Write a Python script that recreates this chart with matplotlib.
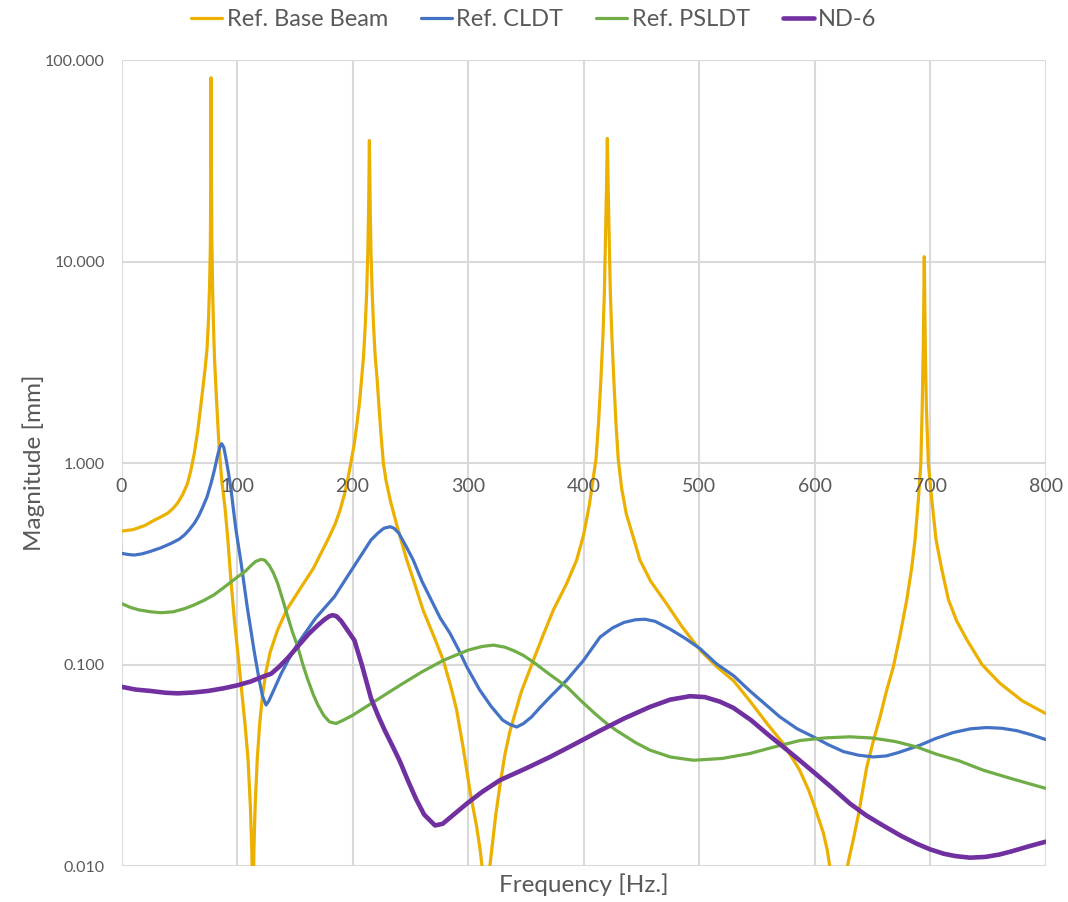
import matplotlib
matplotlib.use("Agg")
import matplotlib.pyplot as plt
from matplotlib.ticker import FixedLocator, FixedFormatter, NullLocator

plt.rcParams["font.family"] = ["Lato", "DejaVu Sans"]

# ---- series: frequency [Hz] and response magnitude [mm] ----
base_f = [0, 10, 20, 28, 35, 40, 45, 48.6, 53, 57, 60, 63, 66, 68.5, 70.5, 72.5, 74, 75.2,
          76.2, 76.9, 77.3, 77.5, 77.8, 78.2, 78.8, 79.6, 80.5, 82, 83.8, 85.5, 87, 89.6,
          92, 95, 98, 101, 104, 107, 109.5, 111.5, 112.8, 113.7, 114.6, 115.7, 117.5,
          119.5, 122, 125, 128.6, 135, 143, 155, 166, 178.5, 185, 189.2, 193, 196, 198.5,
          201.5, 204, 206, 207.8, 209.5, 211, 212.2, 213.2, 213.9, 214.6, 215.3, 216, 217,
          218.2, 219.6, 221.3, 223.2, 224.8, 226.7, 229, 232.5, 238, 247, 254, 261, 270,
          278.6, 285, 290, 296, 302, 307.5, 310.5, 313, 315.5, 318, 320.5, 324, 328, 332,
          336.4, 346, 356.5, 365, 373.9, 385, 394, 400, 405, 408.5, 410.8, 413, 415, 416.8,
          418, 419, 419.8, 420.6, 421.4, 422.2, 423.2, 424.5, 426.2, 428, 430, 433, 437,
          443, 448.9, 458, 472, 485, 500.9, 515, 530, 544, 560, 573, 587, 595, 601, 607.6,
          611, 615, 620, 626, 630, 633.5, 638, 645.2, 651, 656.7, 662, 668.2, 674, 679.8,
          684, 687, 689.8, 692, 693.2, 694.2, 695, 695.8, 696.8, 698.5, 701, 705.2, 710,
          715.9, 723, 731.8, 745, 760.6, 780, 800]
base_v = [0.46, 0.468, 0.49, 0.52, 0.545, 0.565, 0.60, 0.635, 0.70, 0.79, 0.92, 1.12, 1.45,
          1.9, 2.4, 3.0, 3.7, 5.0, 7.5, 12, 30, 82, 30, 13, 7.5, 4.8, 3.3, 2.2, 1.4, 1.0,
          0.8, 0.6, 0.42, 0.25, 0.16, 0.11, 0.074, 0.05, 0.034, 0.02, 0.012, 0.005, 0.012,
          0.02, 0.034, 0.05, 0.07, 0.092, 0.115, 0.148, 0.187, 0.24, 0.30, 0.416, 0.50,
          0.586, 0.70, 0.84, 1.0, 1.25, 1.6, 2.0, 2.6, 3.4, 4.8, 7.0, 11, 18, 40, 18, 11,
          7.0, 4.8, 3.4, 2.6, 1.8, 1.35, 1.0, 0.82, 0.66, 0.50, 0.33, 0.25, 0.187, 0.14,
          0.105, 0.078, 0.06, 0.038, 0.023, 0.0156, 0.012, 0.009, 0.005, 0.009, 0.012,
          0.018, 0.026, 0.036, 0.047, 0.073, 0.105, 0.14, 0.187, 0.25, 0.33, 0.44, 0.62,
          0.85, 1.05, 1.6, 2.6, 4.3, 7, 13, 22, 41, 22, 13, 7, 4.3, 2.6, 1.6, 1.05, 0.75,
          0.56, 0.43, 0.33, 0.26, 0.20, 0.155, 0.118, 0.098, 0.083, 0.066, 0.05, 0.0405,
          0.030, 0.0237, 0.019, 0.0146, 0.012, 0.0085, 0.005, 0.0085, 0.011, 0.0135, 0.018,
          0.031, 0.042, 0.055, 0.073, 0.0975, 0.14, 0.209, 0.30, 0.416, 0.65, 1.0, 1.9, 4.0,
          10.6, 4.0, 1.9, 1.0, 0.7, 0.416, 0.30, 0.21, 0.165, 0.133, 0.10, 0.0807, 0.066,
          0.0572]

cldt_f = [0, 6, 11, 18, 25, 34, 42.9, 50, 54.4, 59, 63, 67, 70, 74, 77.5, 80.5, 83, 85,
          86.7, 88.5, 90.5, 92.5, 94.8, 97, 99, 103.5, 109, 115, 119, 122, 125.1, 127.5,
          131, 138.1, 145, 152.5, 168, 184.2, 200, 216, 222, 227, 232.5, 236, 240, 246,
          252.6, 260, 268, 276, 284.4, 292, 298.9, 310, 320, 330, 336, 342.2, 348, 355,
          362, 372, 385.5, 400, 414.3, 425, 435, 445, 453.2, 462, 475, 488, 500.9, 515,
          530, 544, 570, 585, 599, 612, 625, 638, 651, 662, 672, 691.3, 705, 720, 735, 749,
          762, 775, 788, 800]
cldt_v = [0.357, 0.352, 0.35, 0.355, 0.365, 0.38, 0.40, 0.42, 0.44, 0.47, 0.503, 0.55, 0.60,
          0.68, 0.795, 0.93, 1.08, 1.2, 1.25, 1.2, 1.05, 0.9, 0.74, 0.58, 0.47, 0.32, 0.19,
          0.115, 0.085, 0.07, 0.063, 0.066, 0.073, 0.09, 0.107, 0.127, 0.17, 0.217, 0.30,
          0.416, 0.45, 0.475, 0.484, 0.475, 0.45, 0.39, 0.33, 0.26, 0.21, 0.17, 0.143,
          0.118, 0.0975, 0.075, 0.062, 0.053, 0.0505, 0.049, 0.051, 0.055, 0.061, 0.07,
          0.0838, 0.105, 0.137, 0.152, 0.162, 0.167, 0.168, 0.164, 0.15, 0.135, 0.12, 0.101,
          0.088, 0.074, 0.055, 0.048, 0.0438, 0.04, 0.037, 0.0355, 0.0348, 0.0352, 0.0365,
          0.0398, 0.043, 0.046, 0.048, 0.0487, 0.0483, 0.047, 0.0448, 0.0425]

psldt_f = [0, 8, 15, 25, 34.2, 45, 55, 63, 71.7, 80, 88, 95, 100.6, 107, 112, 116, 120.8,
           124, 128, 131.5, 135.2, 139, 143, 148, 152.5, 157, 161, 166, 170, 175, 180,
           185.7, 192, 200, 216, 230, 241.1, 260, 278.6, 300, 312, 321.9, 332, 340, 348,
           356.5, 370, 385.5, 398, 410, 420, 428.7, 445, 457.6, 475, 495, 520, 544, 565,
           587.4, 610, 630.7, 650, 670, 688.5, 705, 725, 746.1, 770, 800]
psldt_v = [0.201, 0.192, 0.187, 0.183, 0.181, 0.183, 0.19, 0.198, 0.209, 0.222, 0.24, 0.258,
           0.273, 0.29, 0.31, 0.325, 0.333, 0.33, 0.31, 0.285, 0.253, 0.215, 0.18, 0.145,
           0.123, 0.10, 0.085, 0.071, 0.063, 0.056, 0.052, 0.051, 0.053, 0.056, 0.064, 0.072,
           0.079, 0.092, 0.105, 0.118, 0.123, 0.125, 0.122, 0.117, 0.111, 0.103, 0.09,
           0.0776, 0.066, 0.057, 0.051, 0.047, 0.041, 0.0376, 0.0348, 0.0335, 0.0342,
           0.0362, 0.039, 0.042, 0.0433, 0.0438, 0.0432, 0.0415, 0.039, 0.036, 0.0333,
           0.0299, 0.0272, 0.0243]

nd6_f = [0, 12, 25, 38, 48.6, 62, 75, 88, 100.6, 112, 122, 129.4, 136, 144, 152.5, 162, 170,
         176, 180, 182.8, 186, 190, 195, 201.6, 208, 216, 222, 228, 235, 241.1, 248, 255,
         262, 271.4, 278, 285, 298.9, 312, 327.7, 350, 371, 392, 414.3, 435, 457.6, 475,
         492.2, 505, 518, 529.7, 545, 558.6, 573, 587, 600, 615, 630.7, 645, 660, 675,
         688.5, 700, 712, 722, 734.6, 748, 760, 770, 785, 800]
nd6_v = [0.0776, 0.0752, 0.074, 0.0725, 0.072, 0.0727, 0.074, 0.0762, 0.079, 0.0825, 0.087,
         0.09, 0.097, 0.108, 0.123, 0.142, 0.157, 0.168, 0.174, 0.176, 0.174, 0.165, 0.15,
         0.132, 0.10, 0.068, 0.056, 0.047, 0.039, 0.033, 0.0265, 0.0215, 0.018, 0.0159,
         0.0162, 0.0175, 0.0204, 0.0233, 0.0267, 0.0305, 0.0348, 0.0402, 0.047, 0.054,
         0.0617, 0.067, 0.0697, 0.069, 0.0655, 0.061, 0.053, 0.0455, 0.039, 0.0335, 0.029,
         0.0245, 0.0204, 0.0178, 0.0158, 0.0141, 0.0129, 0.0121, 0.0115, 0.0112, 0.011,
         0.0111, 0.0114, 0.0118, 0.0125, 0.0132]

series_names = ["Ref. Base Beam", "Ref. CLDT", "Ref. PSLDT", "ND-6"]
series_colors = ["#EBB000", "#4472C4", "#70AD47", "#7030A0"]

y_ticks = [0.01, 0.1, 1, 10, 100]
y_tick_labels = ["0.010", "0.100", "1.000", "10.000", "100.000"]
x_ticks = [0, 100, 200, 300, 400, 500, 600, 700, 800]

fig = plt.figure(figsize=(10.68, 9.02), dpi=100)
ax = fig.add_axes([0.1138, 0.0399, 0.8652, 0.8931])

data = [(base_f, base_v), (cldt_f, cldt_v), (psldt_f, psldt_v), (nd6_f, nd6_v)]
widths = [2.3, 2.3, 2.3, 3.3]
for (f, v), name, col, lw in zip(data, series_names, series_colors, widths):
    ax.plot(f, v, color=col, lw=lw, label=name, solid_joinstyle="round",
            solid_capstyle="round", zorder=3)

ax.set_yscale("log")
ax.set_xlim(0, 800)
ax.set_ylim(0.01, 100)

ax.yaxis.set_major_locator(FixedLocator(y_ticks))
ax.yaxis.set_major_formatter(FixedFormatter(y_tick_labels))
ax.yaxis.set_minor_locator(NullLocator())
ax.xaxis.set_major_locator(FixedLocator(x_ticks))
ax.tick_params(axis="y", length=0, labelsize=11.5, labelcolor="#595959", pad=12)
ax.tick_params(axis="x", length=0, labelbottom=False)

ax.grid(True, color="#D9D9D9", lw=1.5, zorder=0)
for s in ax.spines.values():
    s.set_visible(False)

# horizontal axis crosses at 1.000: frequency labels sit just under that line
for xt in x_ticks:
    ax.annotate(str(xt), xy=(xt, 1.0), xycoords="data", xytext=(0, -11),
                textcoords="offset points", ha="center", va="top",
                fontsize=14, color="#595959", annotation_clip=False)

ax.set_xlabel("Frequency [Hz.]", fontsize=17.5, color="#595959", labelpad=5)
ax.set_ylabel("Magnitude [mm]", fontsize=17.5, color="#595959", labelpad=0)

fig.legend(loc="upper center", bbox_to_anchor=(0.5, 1.0), ncol=4, frameon=False,
           fontsize=17, handlelength=1.3, handletextpad=0.2, columnspacing=1.4,
           labelcolor="#595959", borderaxespad=0.1, borderpad=0.3)

fig.savefig("out.png", dpi=100)
